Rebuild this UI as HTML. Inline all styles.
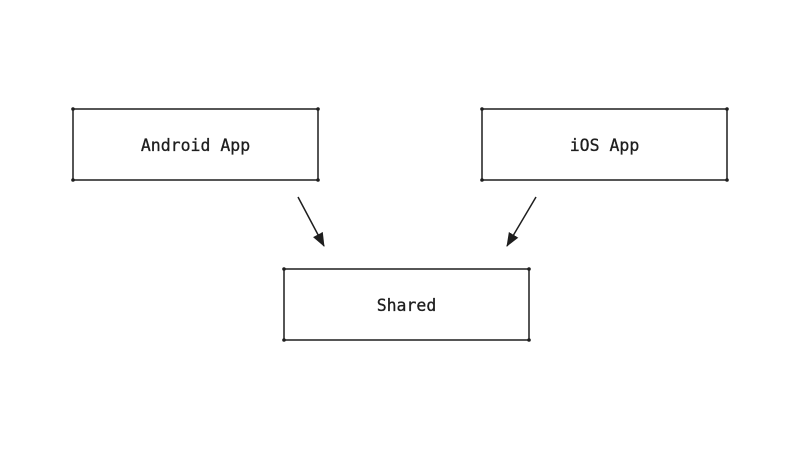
<!DOCTYPE html>
<html><head><style>
html,body{margin:0;padding:0;background:#fff;}
svg{display:block;}
text{font-family:"DejaVu Sans Mono","Liberation Mono",monospace;font-size:16.5px;font-weight:normal;fill:#1e1e1e;stroke:#1e1e1e;stroke-width:0.3;}
</style></head><body>
<svg width="800" height="450" viewBox="0 0 800 450">
<defs>
<marker id="ah" markerWidth="14" markerHeight="12" refX="13" refY="6" orient="auto" markerUnits="userSpaceOnUse">
<path d="M0,0.5 L14,6 L0,11.5 Z" fill="#1e1e1e"/>
</marker>
</defs>
<g fill="none" stroke="#1e1e1e" stroke-width="1.5">
<rect x="73" y="109" width="245" height="71"/>
<rect x="482" y="109" width="245" height="71"/>
<rect x="284" y="269" width="245" height="71"/>
<line x1="298" y1="197" x2="324" y2="246" marker-end="url(#ah)"/>
<line x1="536" y1="197" x2="507" y2="246" marker-end="url(#ah)"/>
</g>
<g fill="#1e1e1e">
<circle cx="73" cy="109" r="1.8"/><circle cx="318" cy="109" r="1.8"/><circle cx="73" cy="180" r="1.8"/><circle cx="318" cy="180" r="1.8"/>
<circle cx="482" cy="109" r="1.8"/><circle cx="727" cy="109" r="1.8"/><circle cx="482" cy="180" r="1.8"/><circle cx="727" cy="180" r="1.8"/>
<circle cx="284" cy="269" r="1.8"/><circle cx="529" cy="269" r="1.8"/><circle cx="284" cy="340" r="1.8"/><circle cx="529" cy="340" r="1.8"/>
</g>
<text x="195.5" y="151" text-anchor="middle">Android App</text>
<text x="604.5" y="151" text-anchor="middle">iOS App</text>
<text x="406.5" y="311" text-anchor="middle">Shared</text>
</svg>
</body></html>
